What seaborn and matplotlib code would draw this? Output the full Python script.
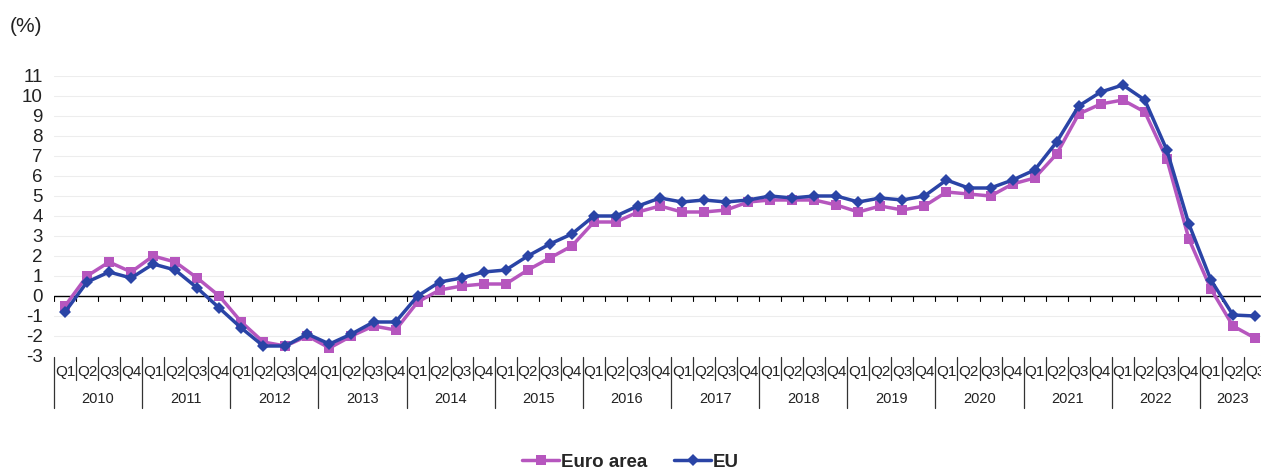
import matplotlib
matplotlib.use("Agg")
import matplotlib.pyplot as plt
import matplotlib.transforms as mtransforms
import pandas as pd
import seaborn as sns

# values (%), 2010Q1 .. 2023Q3
years = [str(y) for y in range(2010, 2024)]
quarters = ["Q1", "Q2", "Q3", "Q4"]

euro_area = [-0.5, 1.0, 1.7, 1.2,
             2.0, 1.7, 0.9, 0.0,
             -1.3, -2.3, -2.5, -2.0,
             -2.6, -2.0, -1.5, -1.7,
             -0.3, 0.3, 0.5, 0.6,
             0.6, 1.3, 1.9, 2.5,
             3.7, 3.7, 4.2, 4.5,
             4.2, 4.2, 4.3, 4.7,
             4.8, 4.8, 4.8, 4.55,
             4.2, 4.5, 4.3, 4.5,
             5.2, 5.1, 5.0, 5.6,
             5.9, 7.1, 9.1, 9.6,
             9.8, 9.2, 6.85, 2.85,
             0.35, -1.5, -2.1]
eu = [-0.8, 0.7, 1.2, 0.9,
      1.6, 1.3, 0.4, -0.6,
      -1.6, -2.5, -2.5, -1.9,
      -2.4, -1.9, -1.3, -1.3,
      0.0, 0.7, 0.9, 1.2,
      1.3, 2.0, 2.6, 3.1,
      4.0, 4.0, 4.5, 4.9,
      4.7, 4.8, 4.7, 4.8,
      5.0, 4.9, 5.0, 5.0,
      4.7, 4.9, 4.8, 5.0,
      5.8, 5.4, 5.4, 5.8,
      6.3, 7.7, 9.5, 10.2,
      10.55, 9.8, 7.3, 3.6,
      0.8, -0.95, -1.0]

labels = [(y, q) for y in years for q in quarters][:len(eu)]
n = len(eu)

df = pd.DataFrame({
    "pos": list(range(n)) * 2,
    "value": euro_area + eu,
    "series": ["Euro area"] * n + ["EU"] * n,
})

sns.set_theme(style="white")
plt.rcParams["font.family"] = ["Liberation Sans", "DejaVu Sans"]
plt.rcParams["axes.unicode_minus"] = False

W, H = 1261, 470
fig = plt.figure(figsize=(W / 100, H / 100), dpi=100)
ax = fig.add_axes([54 / W, 1 - 356 / H, 1212 / W, 280 / H])

colors = {"Euro area": "#B656BE", "EU": "#2A44A6"}
markers = {"Euro area": "s", "EU": "D"}
sizes = {"Euro area": 7.5, "EU": 6.5}
for name in ["Euro area", "EU"]:
    sub = df[df["series"] == name]
    sns.lineplot(data=sub, x="pos", y="value", ax=ax, color=colors[name],
                 marker=markers[name], markersize=sizes[name], markeredgewidth=0,
                 linewidth=2.5, label=name, legend=False, zorder=3)

ax.set_xlim(-0.5, n - 0.5)
ax.set_ylim(-3, 11)
ax.set_yticks(range(-3, 12))
ax.tick_params(axis="y", length=0, pad=8, labelsize=13.5, labelcolor="#222222")
ax.set_xticks([])
ax.set_xlabel("")
ax.set_ylabel("")
for s in ax.spines.values():
    s.set_visible(False)
ax.grid(axis="y", color="#EDEDED", linewidth=0.8)
ax.set_axisbelow(True)
ax.axhline(0, color="black", linewidth=1, zorder=2)

# small ticks under the zero line
for i in range(n + 1):
    ax.plot([i - 0.5, i - 0.5], [0, -0.25], color="black", linewidth=0.8, zorder=2)

# category axis: quarters and years
trans = mtransforms.blended_transform_factory(ax.transData, ax.transAxes)
for i in range(n + 1):
    x = i - 0.5
    bottom = -0.186 if i % 4 == 0 or i == n else -0.086
    ax.plot([x, x], [-0.004, bottom], color="#333333", linewidth=0.9,
            transform=trans, clip_on=False)
for i, (y, q) in enumerate(labels):
    ax.text(i, -0.057, q, transform=trans, ha="center", va="center",
            fontsize=11, color="#222222")
for k, y in enumerate(years):
    start = k * 4
    end = min(start + 4, n)
    ax.text((start + end - 1) / 2, -0.155, y, transform=trans, ha="center",
            va="center", fontsize=10.5, color="#222222")

fig.text(10 / W, 1 - 27 / H, "(%)", fontsize=15, ha="left", va="center", color="#222222")

handles, names = ax.get_legend_handles_labels()
fig.legend(handles, names, loc="center", bbox_to_anchor=(0.5, 1 - 462 / H), ncol=2,
           frameon=False, prop={"weight": "bold", "size": 13.5}, handlelength=2.0,
           handletextpad=0.1, columnspacing=1.4)

fig.savefig("out.png", dpi=100)
